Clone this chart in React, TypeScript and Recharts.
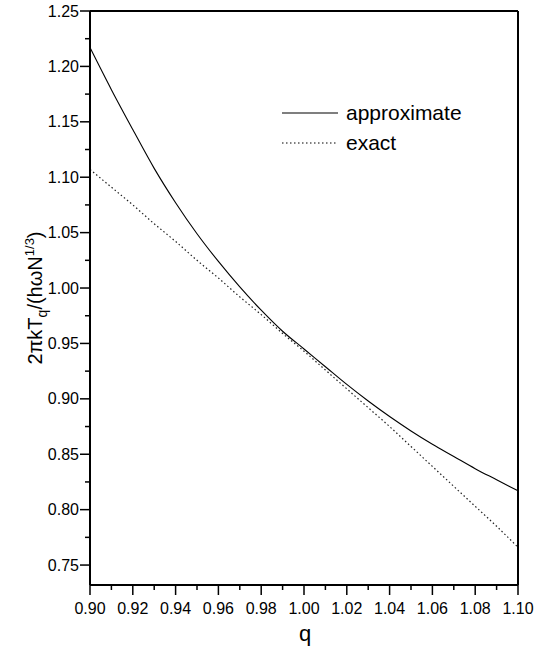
import { LineChart, Line, XAxis, YAxis, Legend, ReferenceLine } from "recharts";

const qValues = [
    0.9, 0.91, 0.92, 0.93, 0.94, 0.95, 0.96, 0.97, 0.98, 0.99, 1.0,
    1.01, 1.02, 1.03, 1.04, 1.05, 1.06, 1.07, 1.08, 1.09, 1.1,
];
const approximate = [
    1.217, 1.179, 1.143, 1.108, 1.077, 1.049, 1.024, 1.001, 0.98, 0.961, 0.945,
    0.929, 0.913, 0.898, 0.884, 0.871, 0.859, 0.848, 0.837, 0.827, 0.817,
];
const exact = [
    1.107, 1.091, 1.075, 1.058, 1.042, 1.025, 1.009, 0.992, 0.976, 0.959, 0.943,
    0.926, 0.909, 0.892, 0.875, 0.857, 0.839, 0.821, 0.803, 0.785, 0.766,
];
const xTicks = qValues;
const yTicks = [
    0.75, 0.775, 0.8, 0.825, 0.85, 0.875, 0.9, 0.925, 0.95, 0.975, 1.0,
    1.025, 1.05, 1.075, 1.1, 1.125, 1.15, 1.175, 1.2, 1.225, 1.25,
];

const data = qValues.map((q, i) => ({ q, approximate: approximate[i], exact: exact[i] }));

const FONT = "'Liberation Sans', Arial, Helvetica, sans-serif";

function XTick(props: any) {
    const { x, y, payload } = props;
    const major = Math.round(payload.value * 100) % 2 === 0;
    return (
        <g>
            <line x1={x} y1={y} x2={x} y2={y + (major ? 10 : 5)} stroke="#000" strokeWidth={1.5} />
            {major && (
                <text x={x} y={y + 29} textAnchor="middle" fontSize={16} fontFamily={FONT} fill="#000">
                    {payload.value.toFixed(2)}
                </text>
            )}
        </g>
    );
}

function YTick(props: any) {
    const { x, y, payload } = props;
    const major = Math.round(payload.value * 1000) % 50 === 0;
    return (
        <g>
            <line x1={x} y1={y} x2={x - (major ? 10 : 5)} y2={y} stroke="#000" strokeWidth={1.5} />
            {major && (
                <text x={x - 11} y={y + 5.5} textAnchor="end" fontSize={16} fontFamily={FONT} fill="#000">
                    {payload.value.toFixed(2)}
                </text>
            )}
        </g>
    );
}

const legendItems = [
    { name: "approximate", dash: undefined },
    { name: "exact", dash: "1.5 2.5" },
];

function renderLegend() {
    return (
        <div style={{ fontFamily: FONT, fontSize: 21, color: "#000" }}>
            {legendItems.map((item) => (
                <div key={item.name} style={{ display: "flex", alignItems: "center", height: 30 }}>
                    <svg width={56} height={4}>
                        <line x1={0} y1={2} x2={56} y2={2} stroke="#000" strokeWidth={1.2} strokeDasharray={item.dash} />
                    </svg>
                    <span style={{ marginLeft: 8 }}>{item.name}</span>
                </div>
            ))}
        </div>
    );
}

export default function App() {
    return (
        <div style={{ position: "absolute", left: 0, top: 0, width: 549, height: 657, background: "#fff" }}>
            <LineChart width={549} height={657} data={data} margin={{ top: 11, right: 31, bottom: 32, left: 30 }}>
                <XAxis
                    type="number"
                    dataKey="q"
                    domain={[0.9, 1.1]}
                    ticks={xTicks}
                    interval={0}
                    tick={XTick}
                    tickLine={false}
                    tickSize={0}
                    tickMargin={0}
                    height={40}
                    axisLine={{ stroke: "#000", strokeWidth: 2 }}
                    label={{
                        content: () => (
                            <text x={305} y={641} textAnchor="middle" fontSize={22} fontFamily={FONT} fill="#000">
                                q
                            </text>
                        ),
                    }}
                />
                <YAxis
                    type="number"
                    domain={[0.732, 1.25]}
                    ticks={yTicks}
                    interval={0}
                    tick={YTick}
                    tickLine={false}
                    tickSize={0}
                    tickMargin={0}
                    width={60}
                    axisLine={{ stroke: "#000", strokeWidth: 2 }}
                    label={{
                        content: () => (
                            <text
                                x={42}
                                y={298}
                                transform="rotate(-90, 42, 298)"
                                textAnchor="middle"
                                fontSize={20}
                                fontFamily={FONT}
                                fill="#000"
                            >
                                2πkT
                                <tspan dy={5} fontSize={14}>q</tspan>
                                <tspan dy={-5}>/(hωN</tspan>
                                <tspan dy={-8} fontSize={13}>1/3</tspan>
                                <tspan dy={8}>)</tspan>
                            </text>
                        ),
                    }}
                />
                <ReferenceLine y={1.25} stroke="#000" strokeWidth={2} />
                <ReferenceLine x={1.1} stroke="#000" strokeWidth={2} />
                <Legend
                    layout="vertical"
                    align="center"
                    verticalAlign="middle"
                    content={renderLegend}
                    wrapperStyle={{ left: 282, top: 98, width: 220 }}
                />
                <Line
                    type="monotone"
                    dataKey="approximate"
                    stroke="#000"
                    strokeWidth={1.1}
                    dot={false}
                    isAnimationActive={false}
                />
                <Line
                    type="monotone"
                    dataKey="exact"
                    stroke="#222"
                    strokeWidth={1.2}
                    strokeDasharray="1.5 2.5"
                    dot={false}
                    isAnimationActive={false}
                />
            </LineChart>
        </div>
    );
}
